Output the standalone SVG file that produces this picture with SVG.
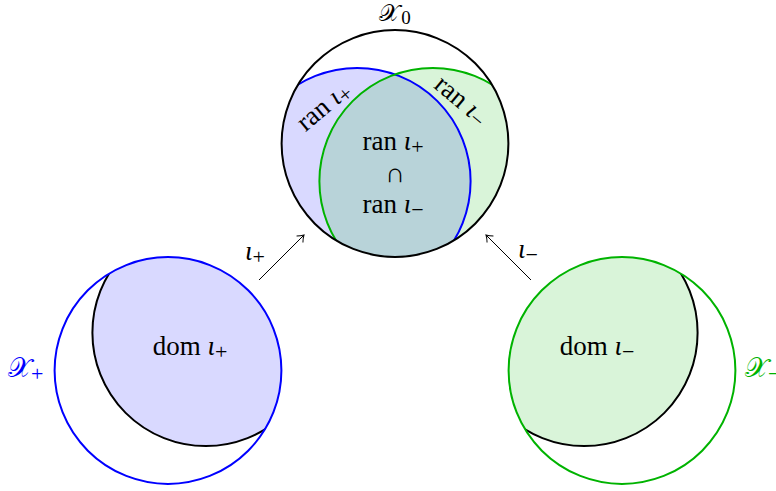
<svg xmlns="http://www.w3.org/2000/svg" width="776" height="491" viewBox="0 0 776 491">
<style>
.t{font-family:"Liberation Serif","DejaVu Serif",serif;font-size:27px;fill:#000}
.s{font-size:22px}
.i{font-style:italic}
.cal{font-family:"DejaVu Serif","Noto Sans","DejaVu Sans",serif}
.bf{fill:#0000ff;fill-opacity:0.15;stroke:none}
.gf{fill:#00b300;fill-opacity:0.15;stroke:none}
.bs{fill:none;stroke:#0000ff;stroke-width:2}
.gs{fill:none;stroke:#00b300;stroke-width:2}
.ks{fill:none;stroke:#000;stroke-width:2}
.arr{fill:none;stroke:#000;stroke-width:1}
</style>
<defs>
<clipPath id="c0"><circle cx="395" cy="143.5" r="113.4"/></clipPath>
<clipPath id="cp"><circle cx="168" cy="370.5" r="113.4"/></clipPath>
<clipPath id="cm"><circle cx="622" cy="370.5" r="113.4"/></clipPath>
<marker id="ah" markerUnits="userSpaceOnUse" markerWidth="12" markerHeight="12" refX="9" refY="6" orient="auto">
<path d="M3,1.5 Q6,4.5 9,6 Q6,7.5 3,10.5" fill="none" stroke="#000" stroke-width="1"/>
</marker>
</defs>
<g id="X0">
<g clip-path="url(#c0)">
<circle class="bf" cx="357.2" cy="181.3" r="113.4"/>
<circle class="gf" cx="432.8" cy="181.3" r="113.4"/>
<circle class="bs" cx="357.2" cy="181.3" r="113.4"/>
<circle class="gs" cx="432.8" cy="181.3" r="113.4"/>
</g>
<circle class="ks" cx="395" cy="143.5" r="113.4"/>
<text class="t" x="395" y="21" text-anchor="middle" style="font-size:24px"><tspan class="cal">𝒳</tspan><tspan class="s" dx="1" dy="3" style="font-size:19px">0</tspan></text>
<text class="t" transform="translate(325,108) rotate(-40)" x="0" y="6" text-anchor="middle">ran <tspan class="i">ι</tspan><tspan class="s" dy="4">+</tspan></text>
<text class="t" transform="translate(460,102) rotate(40)" x="0" y="6" text-anchor="middle">ran <tspan class="i">ι</tspan><tspan class="s" dy="4">−</tspan></text>
<text class="t" x="393" y="150" text-anchor="middle">ran <tspan class="i">ι</tspan><tspan class="s" dy="4">+</tspan></text>
<text class="t" x="395" y="182" text-anchor="middle">∩</text>
<text class="t" x="393" y="213" text-anchor="middle">ran <tspan class="i">ι</tspan><tspan class="s" dy="4">−</tspan></text>
</g>
<g id="Xplus">
<g clip-path="url(#cp)">
<circle class="bf" cx="205.8" cy="332.7" r="113.4"/>
<circle class="ks" cx="205.8" cy="332.7" r="113.4"/>
</g>
<circle class="bs" cx="168" cy="370.5" r="113.4"/>
<text class="t" x="190" y="355" text-anchor="middle">dom <tspan class="i">ι</tspan><tspan class="s" dy="4">+</tspan></text>
<text class="t" x="8" y="377" style="fill:#0000ff"><tspan class="cal">𝒳</tspan><tspan class="s" dy="4">+</tspan></text>
</g>
<g id="Xminus">
<g clip-path="url(#cm)">
<circle class="gf" cx="584.2" cy="332.7" r="113.4"/>
<circle class="ks" cx="584.2" cy="332.7" r="113.4"/>
</g>
<circle class="gs" cx="622" cy="370.5" r="113.4"/>
<text class="t" x="597" y="355" text-anchor="middle">dom <tspan class="i">ι</tspan><tspan class="s" dy="4">−</tspan></text>
<text class="t" x="745" y="377" style="fill:#00b300"><tspan class="cal">𝒳</tspan><tspan class="s" dy="4">−</tspan></text>
</g>
<g id="connectors">
<path class="arr" d="M259,280 L304,235" marker-end="url(#ah)"/>
<path class="arr" d="M531,280 L486,235" marker-end="url(#ah)"/>
<text class="t" x="245" y="260"><tspan class="i">ι</tspan><tspan class="s" dy="4">+</tspan></text>
<text class="t" x="518" y="258"><tspan class="i">ι</tspan><tspan class="s" dy="4">−</tspan></text>
</g>
</svg>
